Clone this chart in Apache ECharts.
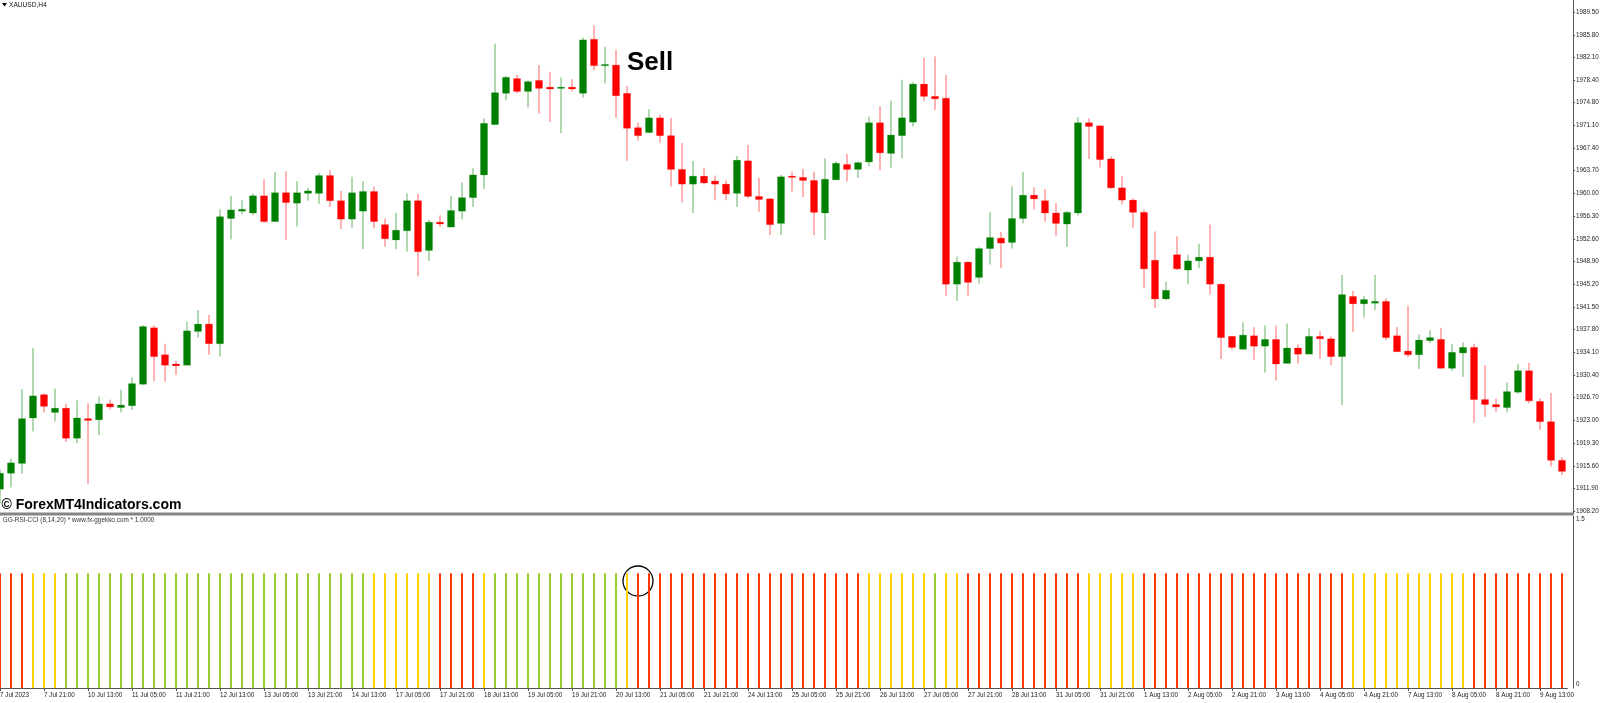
<!DOCTYPE html>
<html><head><meta charset="utf-8">
<script src="https://cdn.jsdelivr.net/npm/echarts@6/dist/echarts.min.js"></script>
<style>html,body{margin:0;padding:0;background:#fff;overflow:hidden}#c{width:1600px;height:703px}</style>
</head><body><div id="c"></div>
<script>
// ---- data ----
// one row per H4 bar: [open, close, low, high]
const ohlc = [
[1911.8,1914.4,1909.5,1915.0],[1914.4,1916.1,1912.1,1916.8],[1916.0,1923.3,1914.3,1928.1],[1923.4,1927.0,1921.2,1934.8],
[1927.2,1925.3,1924.3,1927.4],[1924.3,1925.0,1922.8,1928.2],[1925.0,1920.1,1919.5,1925.7],[1920.1,1923.4,1919.3,1926.3],
[1923.3,1923.0,1912.6,1925.8],[1923.1,1925.7,1920.6,1926.9],[1925.7,1925.2,1924.8,1926.4],[1925.1,1925.5,1924.3,1928.0],
[1925.4,1929.0,1924.7,1930.0],[1928.9,1938.3,1928.8,1938.5],[1938.1,1933.4,1929.4,1938.5],[1933.7,1932.0,1929.3,1935.5],
[1932.2,1931.9,1930.4,1932.7],[1932.0,1937.6,1932.0,1939.1],[1937.5,1938.7,1936.5,1941.0],[1938.7,1935.5,1933.7,1940.2],
[1935.5,1956.2,1933.4,1957.4],[1955.9,1957.3,1952.5,1959.6],[1957.1,1957.4,1956.6,1958.9],[1956.8,1959.6,1956.4,1960.0],
[1959.6,1955.4,1955.2,1962.3],[1955.4,1960.1,1955.4,1963.5],[1960.1,1958.5,1952.4,1963.6],[1958.4,1960.1,1954.6,1962.0],
[1960.0,1960.4,1958.8,1960.9],[1960.0,1962.9,1958.3,1963.3],[1962.9,1958.8,1957.8,1963.8],[1958.8,1955.8,1954.2,1960.4],
[1955.8,1960.1,1954.4,1962.7],[1957.1,1960.3,1950.9,1962.0],[1960.3,1955.4,1954.3,1961.1],[1954.9,1952.6,1951.3,1955.9],
[1952.4,1954.0,1950.9,1956.8],[1953.9,1958.8,1950.5,1960.0],[1958.8,1950.5,1946.5,1959.9],[1950.7,1955.3,1949.0,1955.7],
[1955.3,1955.0,1954.5,1956.4],[1954.5,1957.2,1954.5,1959.6],[1957.1,1959.3,1955.8,1961.8],[1959.3,1963.0,1957.8,1964.1],
[1963.0,1971.4,1960.7,1972.2],[1971.2,1976.4,1971.2,1984.4],[1976.3,1978.9,1975.2,1979.1],[1978.7,1976.6,1976.3,1979.3],
[1976.6,1978.2,1974.0,1978.4],[1978.4,1977.1,1973.0,1980.9],[1977.3,1977.0,1971.6,1979.8],[1977.1,1977.3,1969.8,1978.9],
[1977.3,1977.0,1976.6,1978.6],[1976.3,1985.0,1975.6,1985.4],[1985.1,1980.8,1980.1,1987.4],[1980.8,1981.0,1977.9,1983.9],
[1980.9,1975.9,1972.3,1983.4],[1976.3,1970.6,1965.3,1977.5],[1970.7,1969.4,1968.6,1971.5],[1969.9,1972.3,1969.9,1973.7],
[1972.3,1969.4,1968.2,1972.8],[1969.4,1963.9,1961.1,1972.3],[1963.9,1961.5,1958.5,1968.2],[1961.5,1962.8,1956.8,1965.3],
[1962.8,1961.7,1961.5,1964.2],[1962.0,1961.5,1958.9,1962.9],[1961.5,1959.9,1958.9,1962.1],[1960.0,1965.4,1957.8,1966.1],
[1965.3,1959.5,1959.2,1967.9],[1959.5,1959.0,1957.0,1962.5],[1959.1,1954.9,1953.2,1959.2],[1955.1,1962.7,1953.2,1963.0],
[1962.8,1962.6,1960.3,1963.5],[1962.6,1962.1,1959.4,1964.0],[1962.1,1956.9,1953.2,1963.5],[1956.8,1962.3,1952.4,1965.7],
[1962.2,1964.9,1962.2,1965.2],[1964.7,1963.9,1961.9,1966.4],[1963.9,1965.0,1962.5,1965.2],[1965.1,1971.5,1964.4,1972.5],
[1971.5,1966.6,1963.8,1974.2],[1966.5,1969.5,1964.2,1975.1],[1969.4,1972.3,1965.7,1978.5],[1971.6,1977.8,1970.9,1978.1],
[1977.8,1975.8,1975.0,1982.1],[1975.8,1975.4,1973.6,1982.3],[1975.5,1945.2,1943.3,1979.3],[1945.2,1948.8,1942.5,1949.7],
[1948.8,1945.5,1943.3,1948.9],[1946.3,1951.0,1945.3,1951.2],[1951.0,1952.8,1948.4,1956.9],[1952.7,1951.9,1947.8,1953.7],
[1952.0,1955.9,1951.0,1961.1],[1955.9,1959.7,1955.1,1963.5],[1959.7,1959.1,1957.4,1961.0],[1958.8,1956.8,1955.4,1960.7],
[1956.8,1955.1,1953.1,1958.4],[1955.0,1956.9,1951.3,1957.1],[1956.8,1971.5,1956.4,1972.4],[1971.5,1970.9,1965.6,1972.2],
[1971.0,1965.5,1964.2,1971.1],[1965.6,1960.9,1960.7,1966.0],[1960.9,1958.9,1958.2,1962.8],[1958.9,1956.9,1954.4,1959.2],
[1956.9,1947.7,1944.5,1957.3],[1949.1,1942.8,1941.3,1953.8],[1942.8,1944.2,1942.6,1945.6],[1950.0,1947.7,1947.5,1953.0],
[1947.5,1949.0,1945.2,1950.0],[1949.0,1949.6,1947.8,1951.8],[1949.6,1945.2,1943.5,1954.9],[1945.2,1936.5,1933.0,1945.3],
[1936.7,1934.9,1934.5,1936.8],[1934.6,1936.9,1934.5,1939.0],[1936.8,1935.1,1932.9,1938.2],[1935.1,1936.2,1930.8,1938.5],
[1936.2,1932.2,1929.5,1938.5],[1932.3,1934.8,1932.3,1938.8],[1934.8,1933.8,1932.3,1935.4],[1933.8,1936.7,1933.8,1938.0],
[1936.7,1936.3,1933.0,1937.6],[1936.3,1933.4,1932.0,1936.7],[1933.4,1943.5,1925.5,1946.7],[1943.2,1942.0,1937.4,1944.1],
[1942.0,1942.7,1939.8,1943.3],[1942.1,1942.4,1941.0,1946.7],[1942.4,1936.5,1936.1,1942.9],[1936.8,1934.2,1934.2,1938.2],
[1934.3,1933.7,1933.3,1941.7],[1933.7,1936.1,1931.4,1937.0],[1936.0,1936.5,1935.6,1937.7],[1936.2,1931.5,1931.5,1938.1],
[1931.5,1934.1,1931.1,1935.5],[1934.0,1934.9,1930.1,1935.7],[1934.9,1926.4,1922.6,1935.5],[1926.4,1925.6,1923.6,1932.0],
[1925.6,1925.2,1924.4,1926.6],[1925.1,1927.7,1924.3,1929.2],[1927.6,1931.1,1927.4,1932.2],[1931.1,1926.2,1925.8,1932.4],
[1926.1,1922.8,1921.5,1926.6],[1922.8,1916.5,1915.5,1927.5],[1916.5,1914.7,1914.1,1917.0]
];
// indicator state per bar: R = red, Y = gold, G = yellow-green
const signalLevels = ('RRR' + 'YYY' + 'GGGGGGGGGGGGGGGGGGGGGGGGGGGG' + 'YYYYYY' + 'RRRR' + 'Y' +
  'GGGGGGGGGGGG' + 'Y' + 'RRRRRRRRRRRRRRRRRRRRR' + 'YYYYYY' + 'G' + 'YY' + 'RRRRRRRRRRR' +
  'YYYYY' + 'RRRRRRRRRRRRRRRRRRR' + 'YYYYYYYYYYY' + 'RRRRRRRRR').split('');
const signalHeight = 1;
// time-axis labels, one every 4 bars
const xTickLabels = ['7 Jul 2023','7 Jul 21:00','10 Jul 13:00','11 Jul 05:00','11 Jul 21:00','12 Jul 13:00',
  '13 Jul 05:00','13 Jul 21:00','14 Jul 13:00','17 Jul 05:00','17 Jul 21:00','18 Jul 13:00','19 Jul 05:00',
  '19 Jul 21:00','20 Jul 13:00','21 Jul 05:00','21 Jul 21:00','24 Jul 13:00','25 Jul 05:00','25 Jul 21:00',
  '26 Jul 13:00','27 Jul 05:00','27 Jul 21:00','28 Jul 13:00','31 Jul 05:00','31 Jul 21:00','1 Aug 13:00',
  '2 Aug 05:00','2 Aug 21:00','3 Aug 13:00','4 Aug 05:00','4 Aug 21:00','7 Aug 13:00','8 Aug 05:00',
  '8 Aug 21:00','9 Aug 13:00'];
const priceTicks = [1989.50,1985.80,1982.10,1978.40,1974.80,1971.10,1967.40,1963.70,1960.00,1956.30,1952.60,
  1948.90,1945.20,1941.50,1937.80,1934.10,1930.40,1926.70,1923.00,1919.30,1915.60,1911.90,1908.20];
const subTicks = [0, 1.5];
const priceRange = [1907.76, 1991.50];
const symbolTitle = 'XAUUSD,H4';
const indicatorTitle = 'GG-RSI-CCI (8,14,20) * www.fx-ggekko.com * 1.0000';
const watermark = '\u00A9 ForexMT4Indicators.com';
const sellLabel = 'Sell';
const sellAnchor = [56.9, 1981.2];   // [bar, price]
const circleAnchor = [58.3, 0.933];  // [bar, indicator value]

// ---- build ----
const categories = ohlc.map((_, i) => String(i));
const levelColor = { R: '#FF3A00', Y: '#FFD200', G: '#9ACD32' };
const FONT = 'Liberation Sans';

const chart = echarts.init(document.getElementById('c'), null, { renderer: 'canvas' });
const candleData = ohlc.map((r, i) => [i, r[0], r[1], r[2], r[3]]);
const signalData = signalLevels.map((lv) => ({ value: signalHeight, itemStyle: { color: levelColor[lv] } }));

chart.setOption({
  animation: false,
  backgroundColor: '#ffffff',
  grid: [
    { left: -5.5, top: 0, width: 1573, height: 514, outerBoundsMode: 'none', containLabel: false },
    { left: -5.5, top: 516, width: 1573, height: 172, outerBoundsMode: 'none', containLabel: false }
  ],
  xAxis: [
    { type: 'category', gridIndex: 0, data: categories, boundaryGap: true, show: false },
    { type: 'category', gridIndex: 1, data: categories, boundaryGap: true,
      axisLine: { show: true, lineStyle: { color: '#555', width: 1 } },
      axisTick: { show: true, interval: 3, alignWithLabel: true, length: 3, lineStyle: { color: '#555' } },
      axisLabel: { interval: 3, align: 'left', margin: 4.5, fontFamily: FONT, fontSize: 6.3, color: '#222',
        formatter: (v) => xTickLabels[Number(v) / 4] || '' },
      splitLine: { show: false } }
  ],
  yAxis: [
    { type: 'value', gridIndex: 0, position: 'right', offset: 5.5, min: priceRange[0], max: priceRange[1],
      axisLine: { show: true, lineStyle: { color: '#555', width: 1 } },
      axisTick: { show: true, length: 2, customValues: priceTicks, lineStyle: { color: '#555' } },
      axisLabel: { customValues: priceTicks, margin: 3, fontFamily: FONT, fontSize: 6.3, color: '#222',
        formatter: (v) => Number(v).toFixed(2) },
      splitLine: { show: false } },
    { type: 'value', gridIndex: 1, position: 'right', offset: 5.5, min: 0, max: 1.5,
      axisLine: { show: true, lineStyle: { color: '#555', width: 1 } },
      axisTick: { show: false },
      axisLabel: { customValues: subTicks, margin: 3, fontFamily: FONT, fontSize: 6.3, color: '#222',
        formatter: (v) => v === 0 ? '{lo|0}' : '{hi|' + v + '}',
        rich: { lo: { padding: [0, 0, 7, 0], fontFamily: FONT, fontSize: 6.3, color: '#222' },
                hi: { padding: [7, 0, 0, 0], fontFamily: FONT, fontSize: 6.3, color: '#222' } } },
      splitLine: { show: false } }
  ],
  series: [
    { type: 'custom', xAxisIndex: 0, yAxisIndex: 0, data: candleData,
      encode: { x: 0, y: [1, 2, 3, 4] },
      renderItem: function (params, api) {
        const i = api.value(0), o = api.value(1), c = api.value(2), l = api.value(3), h = api.value(4);
        const pO = api.coord([i, o]), pC = api.coord([i, c]), pL = api.coord([i, l]), pH = api.coord([i, h]);
        const bw = api.size([1, 0])[0] * 0.64;
        const up = c >= o;
        const col = up ? '#008000' : '#FF0000';
        let top = Math.min(pO[1], pC[1]), bot = Math.max(pO[1], pC[1]);
        if (bot - top < 1.3) { const m = (top + bot) / 2; top = m - 0.65; bot = m + 0.65; }
        const cx = pO[0];
        return { type: 'group', children: [
          { type: 'line', shape: { x1: cx, y1: pH[1], x2: cx, y2: pL[1] }, style: { stroke: col, lineWidth: 1, opacity: 0.6 } },
          { type: 'rect', shape: { x: cx - bw / 2, y: top, width: bw, height: bot - top }, style: { fill: col, stroke: col, lineWidth: 0.4, strokeOpacity: 0.5 } }
        ] };
      } },
    { type: 'bar', xAxisIndex: 1, yAxisIndex: 1, data: signalData, barWidth: 2, silent: true }
  ]
});

// annotations placed through the chart's own coordinate system
const pSell = chart.convertToPixel({ xAxisIndex: 0, yAxisIndex: 0 }, sellAnchor);
const pCirc = chart.convertToPixel({ xAxisIndex: 1, yAxisIndex: 1 }, circleAnchor);
chart.setOption({
  graphic: [
    { type: 'polygon', shape: { points: [[2, 3], [7, 3], [4.5, 6.5]] }, style: { fill: '#000' } },
    { type: 'text', left: 9, top: 1.5, style: { text: symbolTitle, fontFamily: FONT, fontSize: 6.6, fill: '#111' } },
    { type: 'rect', shape: { x: 0, y: 512.5, width: 1573, height: 3 }, style: { fill: '#858585' } },
    { type: 'text', left: 1.5, top: 498, style: { text: watermark, fontFamily: FONT, fontWeight: 'bold', fontSize: 14, fill: '#000' } },
    { type: 'text', left: 2.7, top: 517.5, style: { text: indicatorTitle, fontFamily: FONT, fontSize: 6.4, fill: '#333' } },
    { type: 'text', x: pSell[0], y: pSell[1], style: { text: sellLabel, fontFamily: FONT, fontWeight: 'bold', fontSize: 26, fill: '#000', align: 'left', verticalAlign: 'middle' } },
    { type: 'circle', shape: { cx: pCirc[0], cy: pCirc[1], r: 15 }, style: { fill: 'none', stroke: '#000', lineWidth: 1.3 } }
  ]
});
</script></body></html>
